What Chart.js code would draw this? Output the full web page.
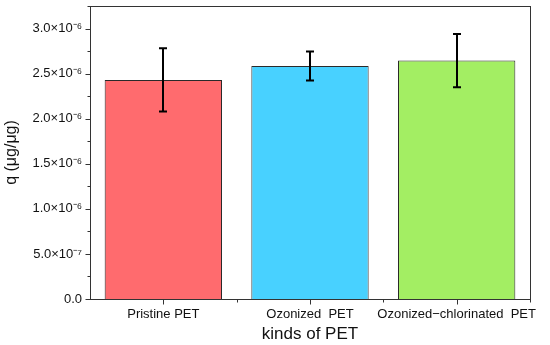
<!DOCTYPE html>
<html>
<head>
<meta charset="utf-8">
<script src="https://cdn.jsdelivr.net/npm/chart.js@4"></script>
<style>
  html, body { margin: 0; padding: 0; background: #fff; }
</style>
</head>
<body>
<canvas id="bars" width="550" height="345"></canvas>
<script>
var categories = ['Pristine PET', 'Ozonized  PET', 'Ozonized\u2212chlorinated  PET'];
var qValues = [2.43e-6, 2.585e-6, 2.645e-6];
var qErrors = [0.35e-6, 0.16e-6, 0.295e-6];
var barColors = ['#FF6B6E', '#48D1FF', '#A3EE63'];
var yTickValues = [0, 5e-7, 1e-6, 1.5e-6, 2e-6, 2.5e-6, 3e-6];
var yTickLabels = ['0.0', '5.0\u00d710\u207b\u2077', '1.0\u00d710\u207b\u2076', '1.5\u00d710\u207b\u2076',
                   '2.0\u00d710\u207b\u2076', '2.5\u00d710\u207b\u2076', '3.0\u00d710\u207b\u2076'];
var yMinorValues = [2.5e-7, 7.5e-7, 1.25e-6, 1.75e-6, 2.25e-6, 2.75e-6, 3.25e-6];

var FONT = 'Liberation Sans, Arial, sans-serif';

// error bars, frame and tick marks
var extras = {
    id: 'extras',
    afterDatasetsDraw: function(chart) {
        var ctx = chart.ctx;
        var x = chart.scales.x, y = chart.scales.y;
        ctx.save();
        ctx.strokeStyle = '#000';
        ctx.lineWidth = 2;
        qValues.forEach(function(v, i) {
            var px = Math.round(x.getPixelForValue(i));
            var top = y.getPixelForValue(v + qErrors[i]);
            var bot = y.getPixelForValue(v - qErrors[i]);
            ctx.beginPath();
            ctx.moveTo(px, top); ctx.lineTo(px, bot);
            ctx.moveTo(px - 4, top); ctx.lineTo(px + 4, top);
            ctx.moveTo(px - 4, bot); ctx.lineTo(px + 4, bot);
            ctx.stroke();
        });
        ctx.restore();
    },
    afterDraw: function(chart) {
        var ctx = chart.ctx, a = chart.chartArea;
        var x = chart.scales.x, y = chart.scales.y;
        ctx.save();
        ctx.strokeStyle = '#333';
        ctx.lineWidth = 1;
        ctx.strokeRect(Math.round(a.left) + 0.5, Math.round(a.top) + 0.5,
                       Math.round(a.right - a.left), Math.round(a.bottom - a.top));
        ctx.beginPath();
        var l = Math.round(a.left) + 0.5, b = Math.round(a.bottom) + 0.5;
        yTickValues.forEach(function(v) {
            var py = Math.round(y.getPixelForValue(v)) + 0.5;
            ctx.moveTo(l, py); ctx.lineTo(l - 5, py);
        });
        yMinorValues.forEach(function(v) {
            var py = Math.round(y.getPixelForValue(v)) + 0.5;
            ctx.moveTo(l, py); ctx.lineTo(l - 3, py);
        });
        categories.forEach(function(c, i) {
            var px = Math.round(x.getPixelForValue(i)) + 0.5;
            ctx.moveTo(px, b); ctx.lineTo(px, b + 5);
            if (i < categories.length - 1) {
                var mx = Math.round(x.getPixelForValue(i + 0.5)) + 0.5;
                ctx.moveTo(mx, b); ctx.lineTo(mx, b + 3);
            }
        });
        var rx = Math.round(a.right) + 0.5;
        ctx.moveTo(rx, b); ctx.lineTo(rx, b + 3);
        ctx.stroke();
        ctx.restore();
    }
};

new Chart(document.getElementById('bars'), {
    type: 'bar',
    data: {
        labels: categories,
        datasets: [{
            data: qValues,
            backgroundColor: barColors,
            borderColor: '#2a2a2a',
            borderWidth: 1,
            barPercentage: 0.8,
            categoryPercentage: 1.0
        }]
    },
    options: {
        responsive: false,
        animation: false,
        devicePixelRatio: 1,
        layout: { padding: { top: 6, right: 20, left: 0, bottom: 0 } },
        plugins: { legend: { display: false }, tooltip: { enabled: false } },
        scales: {
            x: {
                grid: { display: false },
                border: { display: false },
                ticks: {
                    autoSkip: false, maxRotation: 0, minRotation: 0, padding: 0,
                    color: '#111', font: { family: FONT, size: 13 }
                },
                title: {
                    display: true, text: 'kinds of PET', color: '#111',
                    font: { family: FONT, size: 17 }, padding: { top: 0, bottom: 0 }
                },
                afterFit: function(s) { s.height = 46; s.paddingLeft = 0; s.paddingRight = 0; }
            },
            y: {
                min: 0, max: 3.25e-6,
                grid: { display: false },
                border: { display: false },
                afterBuildTicks: function(s) {
                    s.ticks = yTickValues.map(function(v) { return { value: v }; });
                },
                ticks: {
                    padding: 0, color: '#111', font: { family: FONT, size: 13 },
                    callback: function(v, i) { return yTickLabels[i]; }
                },
                title: {
                    display: true, text: 'q (\u03bcg/\u03bcg)', color: '#111',
                    font: { family: FONT, size: 16 }, padding: { top: 2, bottom: 0 }
                },
                afterFit: function(s) { s.width = 90; s.paddingTop = 0; s.paddingBottom = 0; }
            }
        }
    },
    plugins: [extras]
});
</script>
</body>
</html>
